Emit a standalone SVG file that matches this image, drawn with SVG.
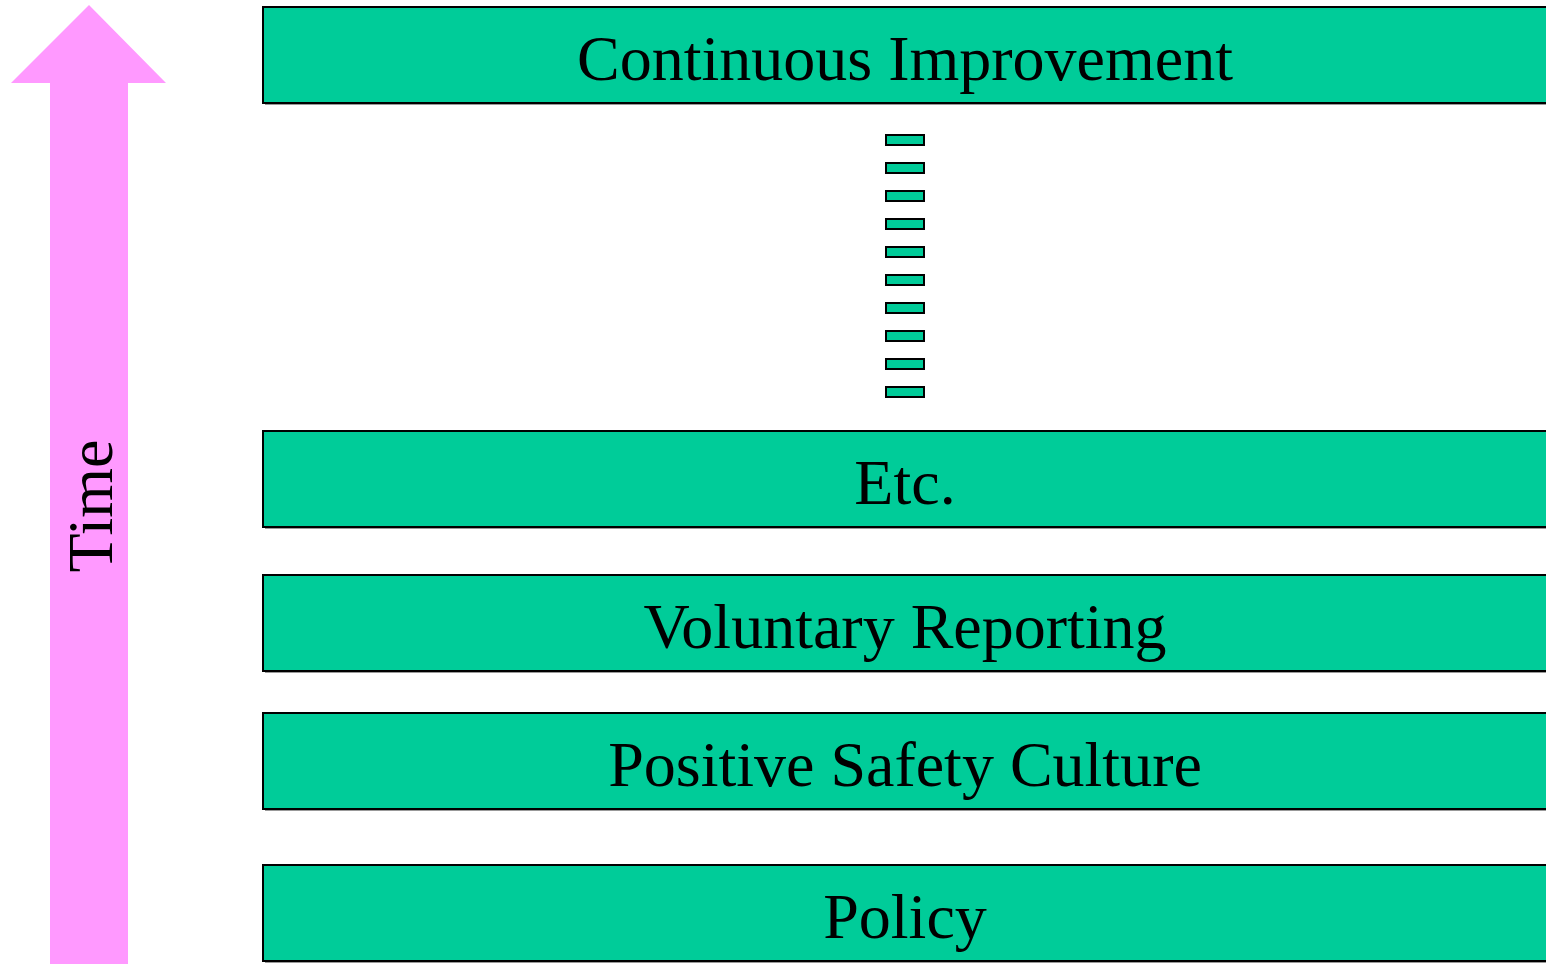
<svg xmlns="http://www.w3.org/2000/svg" width="1546" height="964" viewBox="0 0 1546 964">
<style>
.box{fill:#00CC99;stroke:#000;stroke-width:2}
.sh{fill:#999}
.lbl{font-family:"Liberation Serif","Times New Roman",serif;font-size:64px;fill:#000;text-anchor:middle}
.dash{fill:#00CC99;stroke:#000;stroke-width:2}
</style>
<rect width="1546" height="964" fill="#fff"/>
<g id="time-arrow">
<polygon points="89,5 166,83 128,83 128,964 50,964 50,83 11,83" fill="#FF99FF"/>
<text class="lbl" transform="translate(112,506) rotate(-90)" x="0" y="0">Time</text>
</g>
<g id="continuous-improvement">
<rect class="sh" x="265" y="9" width="1290" height="96"/>
<rect class="box" x="263" y="7" width="1290" height="96"/>
<text class="lbl" x="905" y="80">Continuous Improvement</text>
</g>
<g id="ellipsis-dashes">
<rect class="dash" x="886" y="135" width="38" height="10"/>
<rect class="dash" x="886" y="163" width="38" height="10"/>
<rect class="dash" x="886" y="191" width="38" height="10"/>
<rect class="dash" x="886" y="219" width="38" height="10"/>
<rect class="dash" x="886" y="247" width="38" height="10"/>
<rect class="dash" x="886" y="275" width="38" height="10"/>
<rect class="dash" x="886" y="303" width="38" height="10"/>
<rect class="dash" x="886" y="331" width="38" height="10"/>
<rect class="dash" x="886" y="359" width="38" height="10"/>
<rect class="dash" x="886" y="387" width="38" height="10"/>
</g>
<g id="etc">
<rect class="sh" x="265" y="433" width="1290" height="96"/>
<rect class="box" x="263" y="431" width="1290" height="96"/>
<text class="lbl" x="905" y="504">Etc.</text>
</g>
<g id="voluntary-reporting">
<rect class="sh" x="265" y="577" width="1290" height="96"/>
<rect class="box" x="263" y="575" width="1290" height="96"/>
<text class="lbl" x="905" y="648">Voluntary Reporting</text>
</g>
<g id="positive-safety-culture">
<rect class="sh" x="265" y="715" width="1290" height="96"/>
<rect class="box" x="263" y="713" width="1290" height="96"/>
<text class="lbl" x="905" y="786">Positive Safety Culture</text>
</g>
<g id="policy">
<rect class="sh" x="265" y="867" width="1290" height="96"/>
<rect class="box" x="263" y="865" width="1290" height="96"/>
<text class="lbl" x="905" y="938">Policy</text>
</g>
<g id="connectors"></g>
</svg>
